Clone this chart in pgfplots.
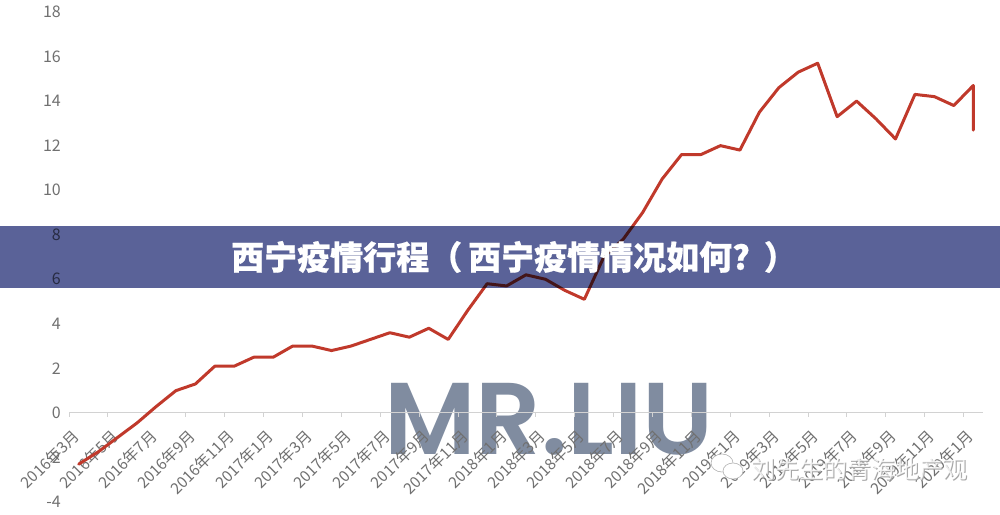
\documentclass[border=0pt]{standalone}
\usepackage{fontspec}
\setmainfont{Noto Sans CJK SC}
\newfontfamily\wm{Poppins SemiBold}
\usepackage{pgfplots}
\pgfplotsset{compat=1.18}
\definecolor{txt}{HTML}{707070}
\definecolor{lin}{HTML}{C0392B}
\definecolor{ban}{HTML}{5A6298}
\definecolor{wmc}{HTML}{808CA0}
\begin{document}
\begin{tikzpicture}[x=1pt,y=1pt]
\path[use as bounding box] (0,0) rectangle (1000,514);
\node[anchor=center,text=wmc,font=\wm\fontsize{102}{102}\selectfont,inner sep=0pt] at (549,95) {MR.LIU};
\begin{axis}[
  at={(69pt,12pt)},anchor=south west,
  scale only axis,width=914pt,height=490pt,
  xmin=-0.5,xmax=46.5,ymin=-4,ymax=18,
  axis x line=middle,axis y line=left,
  axis line style={-},
  y axis line style={draw=none},
  x axis line style={draw=gray!35,line width=1pt},
  ytick={-4,-2,...,18},
  ytick style={draw=none},
  xtick={0,2,...,46},
  xticklabels={2016年3月,2016年5月,2016年7月,2016年9月,2016年11月,2017年1月,2017年3月,2017年5月,2017年7月,2017年9月,2017年11月,2018年1月,2018年3月,2018年5月,2018年7月,2018年9月,2018年11月,2019年1月,2019年3月,2019年5月,2019年7月,2019年9月,2019年11月,2020年1月},
  major tick length=0pt,
  extra x ticks={-0.5,1.5,...,45.5},
  extra x tick labels={},
  extra x tick style={tick align=outside,major tick length=4pt,tick style={draw=gray!35,line width=0.8pt}},
  tick label style={text=txt,font=\fontsize{16}{16}\selectfont},
  /pgf/number format/assume math mode=true,
  xticklabel style={rotate=45,anchor=north east,inner sep=0pt,yshift=-5pt,xshift=-16pt,font=\fontsize{15.5}{15.5}\selectfont},
  yticklabel style={inner sep=0pt,xshift=-8pt},
  clip=false,
]
\addplot[lin,line width=3pt,line join=round,line cap=round] coordinates {
(0,-2.3)(1,-1.75)(2,-1.1)(3,-0.45)(4,0.3)(5,1.0)(6,1.3)(7,2.1)(8,2.1)(9,2.5)(10,2.5)(11,3.0)(12,3.0)(13,2.8)(14,3.0)(15,3.3)(16,3.6)(17,3.4)(18,3.8)(19,3.3)(20,4.6)(21,5.8)(22,5.7)(23,6.2)(24,6.0)(25,5.5)(26,5.1)(27,7.0)(28,7.8)(29,9.0)(30,10.5)(31,11.6)(32,11.6)(33,12.0)(34,11.8)(35,13.5)(36,14.6)(37,15.3)(38,15.7)(39,13.3)(40,14.0)(41,13.2)(42,12.3)(43,14.3)(44,14.2)(45,13.8)(46,14.7)(46,12.7)};
\end{axis}
\node[text=gray!70,font=\fontsize{24}{24}\selectfont,anchor=west,inner sep=0pt] at (752,44) {刘先生的青海地产观};
\node[text=white,text opacity=0.8,font=\fontsize{24}{24}\selectfont,anchor=west,inner sep=0pt] at (751,45) {刘先生的青海地产观};
\fill[white,draw=gray!60,line width=0.6pt] (722,51) ellipse (11 and 9);
\fill[white,draw=gray!60,line width=0.6pt] (733,43) ellipse (10 and 8);
\begin{scope}[blend mode=multiply]
\fill[ban] (0,226) rectangle (1000,288);
\end{scope}
\node[text=white,font=\bfseries\fontsize{33}{33}\selectfont\addfontfeature{FakeBold=0.6},inner sep=0pt,anchor=west] at (231,257) {西宁疫情行程（\hspace{6pt}西宁疫情情况如何?\hspace{14pt}）};
\end{tikzpicture}
\end{document}
